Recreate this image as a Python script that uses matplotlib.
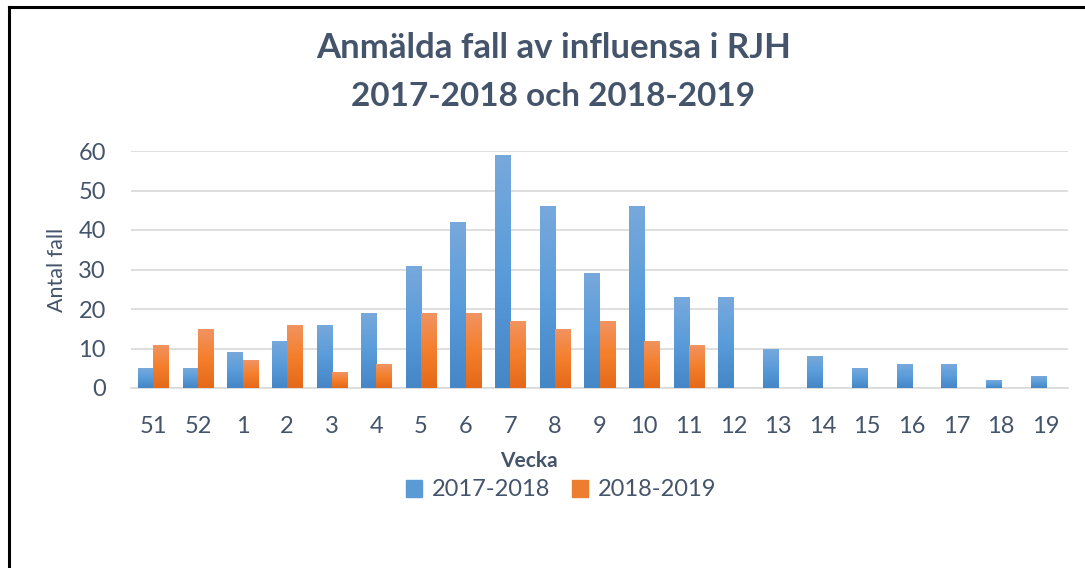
import numpy as np
import matplotlib.pyplot as plt
from matplotlib.colors import LinearSegmentedColormap
from matplotlib.patches import Patch
from matplotlib.lines import Line2D

weeks = ["51", "52", "1", "2", "3", "4", "5", "6", "7", "8", "9", "10",
         "11", "12", "13", "14", "15", "16", "17", "18", "19"]
cases_1718 = [5, 5, 9, 12, 16, 19, 31, 42, 59, 46, 29, 46, 23, 23, 10, 8, 5, 6, 6, 2, 3]
cases_1819 = [11, 15, 7, 16, 4, 6, 19, 19, 17, 15, 17, 12, 11, 0, 0, 0, 0, 0, 0, 0, 0]
series_names = ["2017-2018", "2018-2019"]

TEXT = "#44546A"
plt.rcParams["font.family"] = ["Lato", "DejaVu Sans"]

blue_cm = LinearSegmentedColormap.from_list("b", ["#4486C6", "#5A9CDA", "#78A9DC"])
orange_cm = LinearSegmentedColormap.from_list("o", ["#E4691A", "#F47F2C", "#F19463"])

fig = plt.figure(figsize=(10.85, 5.68), dpi=100)
ax = fig.add_axes([131 / 1085, 1 - 388 / 568, (1068 - 131) / 1085, (388 - 151) / 568])

x = np.arange(len(weeks))
w = 0.34
b1 = ax.bar(x - w / 2, cases_1718, w, color="#5B9BD5", zorder=2)
b2 = ax.bar(x + w / 2, cases_1819, w, color="#ED7D31", zorder=2)

# vertical gradient fill for each bar
grad = np.linspace(0, 1, 256).reshape(-1, 1)
for bars, cm in ((b1, blue_cm), (b2, orange_cm)):
    for p in bars:
        h = p.get_height()
        if h <= 0:
            continue
        x0 = p.get_x()
        im = ax.imshow(grad, cmap=cm, origin="lower", aspect="auto",
                       extent=(x0, x0 + p.get_width(), 0, h), zorder=3)
        im.set_clip_path(p)

ax.set_xlim(-0.5, len(weeks) - 0.5)
ax.set_ylim(0, 60)
ax.set_yticks(range(0, 61, 10))
ax.set_xticks(x)
ax.set_xticklabels(weeks)
ax.grid(axis="y", color="#D9D9D9", linewidth=1.2, zorder=0)
ax.set_axisbelow(True)
for s in ("top", "right", "left"):
    ax.spines[s].set_visible(False)
ax.spines["bottom"].set_color("#D9D9D9")
ax.spines["bottom"].set_linewidth(1.2)
ax.tick_params(axis="both", length=0, labelsize=17, labelcolor=TEXT)
ax.tick_params(axis="x", pad=20)
ax.tick_params(axis="y", pad=18)

fig.text(57 / 1085, 1 - 270 / 568, "Antal fall", rotation=90, ha="center", va="center",
         fontsize=15.5, color=TEXT)
fig.text(529 / 1085, 1 - 461 / 568, "Vecka", ha="center", va="center",
         fontsize=15, fontweight="bold", color=TEXT)
fig.text(554 / 1085, 1 - 48 / 568, "Anmälda fall av influensa i RJH", ha="center", va="center",
         fontsize=25, fontweight="bold", color=TEXT)
fig.text(553 / 1085, 1 - 97 / 568, "2017-2018 och 2018-2019", ha="center", va="center",
         fontsize=24, fontweight="bold", color=TEXT)

handles = [Patch(color="#5B9BD5"), Patch(color="#ED7D31")]
fig.legend(handles, series_names, loc="center", bbox_to_anchor=(561 / 1085, 1 - 490 / 568),
           ncol=2, frameon=False, fontsize=17, handlelength=0.7, handleheight=0.7,
           handletextpad=0.4, columnspacing=0.9, labelcolor=TEXT)

# frame lines at top and left edge
fig.add_artist(Line2D([9 / 1085, 1], [1 - 7 / 568] * 2, color="black", linewidth=2.2,
                      transform=fig.transFigure))
fig.add_artist(Line2D([9 / 1085] * 2, [0, 1 - 7 / 568], color="black", linewidth=2.2,
                      transform=fig.transFigure))

fig.savefig("out.png", dpi=100)
